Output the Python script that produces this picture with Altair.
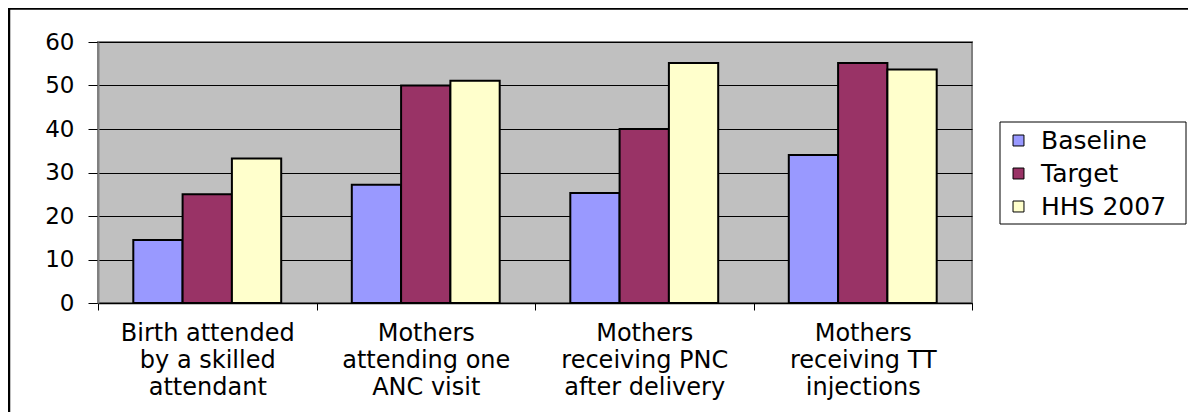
import altair as alt
import pandas as pd

categories = [
    "Birth attended|by a skilled|attendant",
    "Mothers|attending one|ANC visit",
    "Mothers|receiving PNC|after delivery",
    "Mothers|receiving TT|injections",
]
series = ["Baseline", "Target", "HHS 2007"]
baseline = [14.5, 27.2, 25.3, 34.0]
target = [25.0, 50.0, 40.0, 55.2]
hhs2007 = [33.2, 51.1, 55.2, 53.7]
colors = ["#9999FF", "#993366", "#FFFFCC"]
y_ticks = [0, 10, 20, 30, 40, 50, 60]

rows = []
for s, vals in zip(series, [baseline, target, hhs2007]):
    for c, v in zip(categories, vals):
        rows.append({"category": c, "series": s, "value": v})
df = pd.DataFrame(rows)

bars = alt.Chart(df).mark_bar(stroke="black", strokeWidth=2).encode(
    x=alt.X(
        "category:N",
        sort=categories,
        scale=alt.Scale(paddingInner=0, paddingOuter=0),
        axis=alt.Axis(
            title=None,
            labelAngle=0,
            labelExpr="split(datum.label, '|')",
            labelFont="DejaVu Sans",
            labelFontSize=24,
            labelLineHeight=27,
            labelColor="black",
            labelPadding=11,
            labelLimit=0,
            tickBand="extent",
            tickSize=7,
            tickColor="black",
            domainColor="black",
            domainWidth=1.5,
            grid=False,
        ),
    ),
    xOffset=alt.XOffset(
        "series:N", sort=series, scale=alt.Scale(paddingInner=0, paddingOuter=0.716)
    ),
    y=alt.Y(
        "value:Q",
        scale=alt.Scale(domain=[0, 60], nice=False),
        axis=alt.Axis(
            title=None,
            values=y_ticks,
            labelFont="DejaVu Sans",
            labelFontSize=23,
            labelColor="black",
            labelPadding=14,
            tickSize=10,
            tickColor="black",
            domainColor="#808080",
            domainWidth=2,
            gridColor="black",
            gridWidth=1,
        ),
    ),
    color=alt.Color(
        "series:N",
        sort=series,
        scale=alt.Scale(domain=series, range=colors),
        legend=alt.Legend(
            title=None,
            orient="none",
            legendX=908,
            legendY=86,
            padding=0,
            labelFont="DejaVu Sans",
            labelFontSize=25,
            labelColor="black",
            symbolType="square",
            symbolSize=120,
            symbolStrokeColor="black",
            symbolStrokeWidth=1,
            symbolOpacity=1,
            rowPadding=7,
            labelOffset=10,
        ),
    ),
)

legend_box = alt.Chart(pd.DataFrame({"a": [0]})).mark_rect(
    fill="white", stroke="black", strokeWidth=1
).encode(
    x=alt.value(902),
    x2=alt.value(1088),
    y=alt.value(80),
    y2=alt.value(182),
)

frame = alt.Chart(pd.DataFrame({"a": [0]})).mark_rect(
    fillOpacity=0, stroke="black", strokeWidth=2.5
).encode(
    x=alt.value(-89),
    x2=alt.value(1400),
    y=alt.value(-33.5),
    y2=alt.value(700),
)

chart = alt.layer(legend_box, bars, frame).properties(
    width=874,
    height=261,
    padding={"left": 90, "top": 34, "right": 216, "bottom": 109},
    autosize=alt.AutoSizeParams(type="none"),
    background="white",
).configure_view(
    fill="#C0C0C0", stroke="#808080", strokeWidth=2
)

chart.save("out.html", embed_options={"renderer": "svg", "actions": False})
